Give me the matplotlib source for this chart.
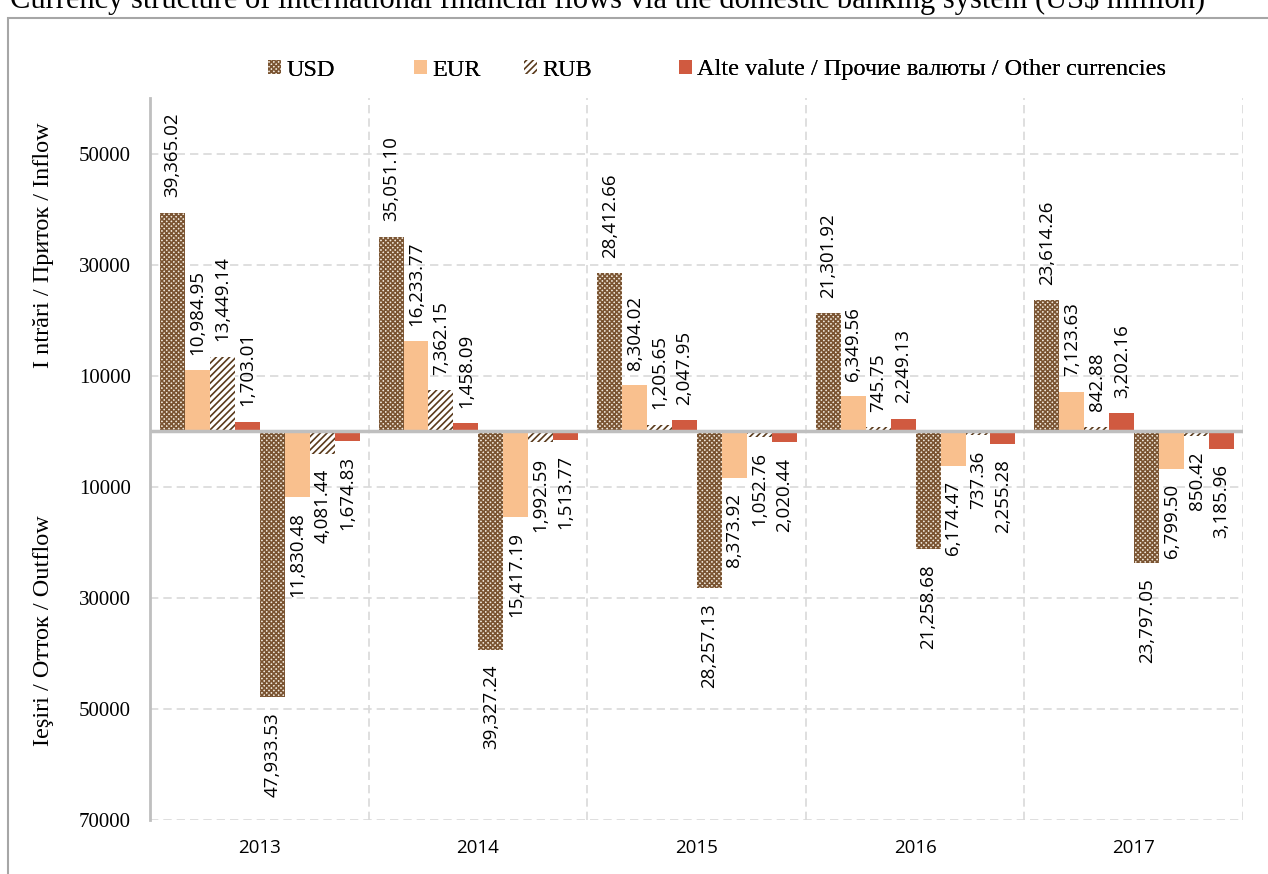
import matplotlib.pyplot as plt
import numpy as np
from matplotlib.patches import Rectangle

plt.rcParams["hatch.linewidth"] = 1.2

years = ["2013", "2014", "2015", "2016", "2017"]
currencies = ["USD", "EUR", "RUB", "Alte valute / Прочие валюты / Other currencies"]

# inflows, US$ million
inflow_usd = [39365.02, 35051.10, 28412.66, 21301.92, 23614.26]
inflow_eur = [10984.95, 16233.77, 8304.02, 6349.56, 7123.63]
inflow_rub = [13449.14, 7362.15, 1205.65, 745.75, 842.88]
inflow_other = [1703.01, 1458.09, 2047.95, 2249.13, 3202.16]

# outflows, US$ million
outflow_usd = [47933.53, 39327.24, 28257.13, 21258.68, 23797.05]
outflow_eur = [11830.48, 15417.19, 8373.92, 6174.47, 6799.50]
outflow_rub = [4081.44, 1992.59, 1052.76, 737.36, 850.42]
outflow_other = [1674.83, 1513.77, 2020.44, 2255.28, 3185.96]

styles = [
    dict(facecolor="#f2e9dc", edgecolor="#7a5432", hatch="xxxxxxx", linewidth=0),
    dict(facecolor="#f9c08e", edgecolor="#f9c08e", linewidth=0),
    dict(facecolor="white", edgecolor="#5a3a1c", hatch="/////", linewidth=0),
    dict(facecolor="#d05a40", edgecolor="#d05a40", linewidth=0),
]

SANS = "Open Sans"
SERIF = "Liberation Serif"

fig = plt.figure(figsize=(12.68, 8.74), dpi=100)
ax = fig.add_axes([0.1183, 0.0618, 0.8620, 0.8261])

x = np.arange(len(years))
width = 25 / 219

inflows = [inflow_usd, inflow_eur, inflow_rub, inflow_other]
outflows = [outflow_usd, outflow_eur, outflow_rub, outflow_other]

handles = []
for k, (vals, st) in enumerate(zip(inflows, styles)):
    pos = x - 0.5 + (22.5 + 25 * k) / 219
    b = ax.bar(pos, vals, width, zorder=2, **st)
    handles.append(b)
    for p, v in zip(pos, vals):
        ax.annotate(f"{v:,.2f}", (p, v), xytext=(0, 11), textcoords="offset points",
                    rotation=90, ha="center", va="bottom", fontsize=13.5,
                    family=SANS, color="black")

for k, (vals, st) in enumerate(zip(outflows, styles)):
    pos = x - 0.5 + (22.5 + 25 * (k + 4)) / 219
    neg = [-v for v in vals]
    ax.bar(pos, neg, width, zorder=2, **st)
    for p, v in zip(pos, neg):
        ax.annotate(f"{-v:,.2f}", (p, v), xytext=(0, -11), textcoords="offset points",
                    rotation=90, ha="center", va="top", fontsize=13.5,
                    family=SANS, color="black")

ax.set_xlim(-0.5, len(years) - 0.5)
ax.set_ylim(-70000, 60000)

yt = [50000, 30000, 10000, -10000, -30000, -50000, -70000]
ax.set_yticks(yt)
ax.set_yticklabels([str(abs(t)) for t in yt], family=SERIF, fontsize=15)
ax.set_xticks(x)
ax.set_xticklabels(years, family=SANS, fontsize=13.5)
ax.tick_params(axis="y", length=0, pad=14)
ax.tick_params(axis="x", length=0, pad=14)

ax.grid(axis="y", color="#d9d9d9", linestyle=(0, (5, 3)), linewidth=1.2, zorder=0)
for b in np.arange(0.5, len(years), 1.0):
    ax.axvline(b, color="#d9d9d9", linestyle=(0, (5, 3)), linewidth=1.2, zorder=0)
ax.axhline(0, color="#bfbfbf", linewidth=2.5, zorder=3)

for s in ["top", "right", "bottom"]:
    ax.spines[s].set_visible(False)
ax.spines["left"].set_color("#bfbfbf")
ax.spines["left"].set_linewidth(2)

fig.text(0.034, 0.72, "I ntrări / Приток / Inflow", rotation=90, ha="center", va="center",
         family=SERIF, fontsize=17.5)
fig.text(0.034, 0.279, "Ieşiri / Отток / Outflow", rotation=90, ha="center", va="center",
         family=SERIF, fontsize=17.5)

# one legend per entry so each can sit at its own x position
legend_x = [268, 414, 524, 679]
for h, label, lx in zip(handles, currencies, legend_x):
    leg = fig.legend([h], [label], loc="center left",
                     bbox_to_anchor=(lx / 1268, 1 - 70 / 874), frameon=False,
                     prop={"family": SERIF, "size": 17.5}, handlelength=0.55,
                     handleheight=0.55, handletextpad=0.2, borderpad=0,
                     borderaxespad=0)
    fig.add_artist(leg)

# outer frame and title (title sits partly above the canvas)
fig.patches.append(Rectangle((8 / 1268, -0.1), 1.2, 0.1 + (874 - 18) / 874,
                             transform=fig.transFigure, fill=False,
                             edgecolor="#a6a6a6", linewidth=1.5))
fig.text(10 / 1268, 1 - 8 / 874,
         "Currency structure of international financial flows via the domestic banking system (US$ million)",
         ha="left", va="baseline", family=SERIF, fontsize=22)

fig.savefig("out.png", dpi=100)
